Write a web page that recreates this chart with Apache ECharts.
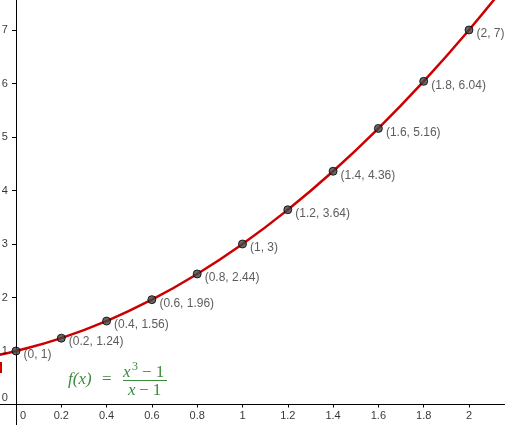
<!DOCTYPE html>
<html>
<head>
<meta charset="utf-8">
<script src="https://cdn.jsdelivr.net/npm/echarts@6/dist/echarts.min.js"></script>
<style>html,body{margin:0;padding:0;background:#fff}#c{width:505px;height:425px}</style>
</head>
<body>
<div id="c"></div>
<script>
// Data
var pointX = [0, 0.2, 0.4, 0.6, 0.8, 1, 1.2, 1.4, 1.6, 1.8, 2];
var pointY = [1, 1.24, 1.56, 1.96, 2.44, 3, 3.64, 4.36, 5.16, 6.04, 7];
var curveX = [-0.1, 0, 0.2, 0.4, 0.6, 0.8, 1, 1.2, 1.4, 1.6, 1.8, 2, 2.2];
var curveY = [0.91, 1, 1.24, 1.56, 1.96, 2.44, 3, 3.64, 4.36, 5.16, 6.04, 7, 8.04];
var xTicks = [0, 0.2, 0.4, 0.6, 0.8, 1, 1.2, 1.4, 1.6, 1.8, 2];
var yTicks = [0, 1, 2, 3, 4, 5, 6, 7];

var chart = echarts.init(document.getElementById('c'), null, {renderer: 'canvas'});
var labelFont = '"Liberation Sans", Arial, sans-serif';
var green = '#3d8b3d';
var mathFont = '"Liberation Serif", "DejaVu Serif", serif';

chart.setOption({
  animation: false,
  backgroundColor: '#fff',
  grid: {left: 0, right: 0, top: 0, bottom: 0, containLabel: false,
         outerBounds: {left: -80, right: -80, top: -80, bottom: -80}},
  xAxis: {
    type: 'value', min: -0.0706, max: 2.159,
    axisLine: {onZero: true, lineStyle: {color: '#000', width: 1}},
    axisTick: {show: true, length: 3, lineStyle: {color: '#000'}, customValues: xTicks},
    axisLabel: {show: false},
    splitLine: {show: false}
  },
  yAxis: {
    type: 'value', min: -0.383, max: 7.56,
    axisLine: {onZero: true, lineStyle: {color: '#000', width: 1}},
    axisTick: {show: true, length: 4, lineStyle: {color: '#000'}, customValues: yTicks},
    axisLabel: {show: false},
    splitLine: {show: false}
  },
  series: [
    {
      type: 'line', smooth: true, symbol: 'none',
      data: curveX.map(function (x, i) { return [x, curveY[i]]; }),
      lineStyle: {color: '#cc0000', width: 2.5},
      z: 2
    },
    {
      type: 'scatter', symbol: 'circle', symbolSize: 8,
      data: pointX.map(function (x, i) { return [x, pointY[i]]; }),
      itemStyle: {color: '#444', borderColor: '#000', borderWidth: 1},
      label: {
        show: true, position: 'right', distance: 3, offset: [0, 4],
        color: '#333', fontSize: 12, fontFamily: labelFont,
        formatter: function (p) { return '(' + p.value[0] + ', ' + p.value[1] + ')'; }
      },
      z: 3
    },
    {
      // x tick labels
      type: 'scatter', symbolSize: 0, silent: true,
      data: xTicks.map(function (x) {
        return x === 0 ? {value: [x, 0], label: {offset: [7, 0]}} : {value: [x, 0]};
      }),
      label: {
        show: true, position: 'bottom', distance: 6,
        color: '#000', fontSize: 11, fontFamily: labelFont,
        formatter: function (p) { return String(p.value[0]); }
      },
      z: 4
    },
    {
      // y tick labels
      type: 'scatter', symbolSize: 0, silent: true,
      data: yTicks.map(function (y) {
        return y === 0 ? {value: [0, y], label: {offset: [0, -7]}} : {value: [0, y]};
      }),
      label: {
        show: true, position: 'left', distance: 8,
        color: '#000', fontSize: 11, fontFamily: labelFont,
        formatter: function (p) { return String(p.value[1]); }
      },
      z: 4
    }
  ],
  graphic: [
    {type: 'rect', shape: {x: 0, y: 362, width: 2, height: 11}, style: {fill: '#cc0000'}},
    {type: 'text', x: 68, y: 388, style: {text: 'f(x)', font: 'italic 17px ' + mathFont, fill: green, verticalAlign: 'bottom'}},
    {type: 'text', x: 102, y: 388, style: {text: '=', font: '17px ' + mathFont, fill: green, verticalAlign: 'bottom'}},
    {type: 'text', x: 123, y: 381, style: {text: 'x', font: 'italic 17px ' + mathFont, fill: green, verticalAlign: 'bottom'}},
    {type: 'text', x: 132, y: 373, style: {text: '3', font: '12px ' + mathFont, fill: green, verticalAlign: 'bottom'}},
    {type: 'text', x: 142, y: 381, style: {text: '− 1', font: '17px ' + mathFont, fill: green, verticalAlign: 'bottom'}},
    {type: 'line', shape: {x1: 123, y1: 380.5, x2: 167, y2: 380.5}, style: {stroke: green, lineWidth: 1}},
    {type: 'text', x: 128, y: 399, style: {text: 'x', font: 'italic 17px ' + mathFont, fill: green, verticalAlign: 'bottom'}},
    {type: 'text', x: 139, y: 399, style: {text: '− 1', font: '17px ' + mathFont, fill: green, verticalAlign: 'bottom'}}
  ]
});
</script>
</body>
</html>
